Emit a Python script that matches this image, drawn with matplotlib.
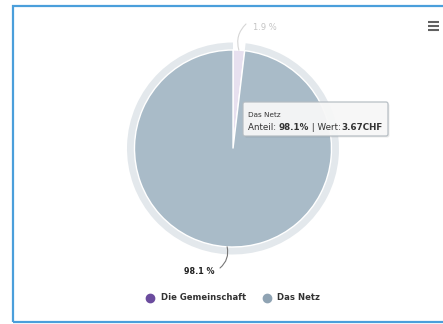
import matplotlib
matplotlib.use("Agg")
import matplotlib.pyplot as plt
from matplotlib.lines import Line2D
from matplotlib.patches import Rectangle, FancyBboxPatch
import numpy as np

# ---- data -------------------------------------------------------------
labels = ["Die Gemeinschaft", "Das Netz"]
shares = [1.9, 98.1]                     # percent
hover_label = "Das Netz"
hover_share = 98.1
hover_value = "3.67CHF"

legend_colors = ["#6b4c9e", "#8fa3b3"]
slice_colors = ["#e7e0ef", "#a9bbc8"]     # inactive / hovered states
halo_color = "#e3e8ec"

# ---- figure (1 data unit == 1 pixel) -----------------------------------
W, H = 443, 324
fig = plt.figure(figsize=(W / 100, H / 100), dpi=100)
ax = fig.add_axes([0, 0, 1, 1])

FONT = "DejaVu Sans"
cx, cy, r = 233.0, H - 148.5, 98.5

# hover halo around the active slice
ax.pie(shares, radius=r + 7.5, center=(cx, cy), startangle=90,
       counterclock=False, colors=["none", halo_color],
       wedgeprops=dict(width=7.5, linewidth=0))
# main pie
ax.pie(shares, radius=r, center=(cx, cy), startangle=90,
       counterclock=False, colors=slice_colors,
       wedgeprops=dict(linewidth=1.0, edgecolor="white"))

ax.set_xlim(0, W)
ax.set_ylim(0, H)
ax.set_aspect("equal")
ax.axis("off")

# ---- data labels with curved connectors ---------------------------------
cum = np.cumsum(shares)
mids = cum - np.array(shares) / 2
angles = np.deg2rad(360 * mids / 100.0)   # clockwise from the top
edge_pts = [(cx + r * np.sin(a), cy + r * np.cos(a)) for a in angles]

label_specs = [
    dict(xy_text=(253, H - 27), ha="left", color="#c4c4c4", weight="normal",
         lcolor="#d6d6d6", rad=-0.3, end=(246, H - 24), size=6.0),
    dict(xy_text=(215, H - 272), ha="right", color="#222222", weight="bold",
         lcolor="#777777", rad=-0.3, end=(220, H - 268), size=5.8),
]
for share, ep, spec in zip(shares, edge_pts, label_specs):
    ax.annotate("", xy=spec["end"], xytext=ep,
                arrowprops=dict(arrowstyle="-", color=spec["lcolor"], lw=0.8,
                                connectionstyle=f"arc3,rad={spec['rad']}",
                                shrinkA=0, shrinkB=0))
    ax.text(spec["xy_text"][0], spec["xy_text"][1], f"{share} %",
            ha=spec["ha"], va="center", fontsize=spec["size"], family=FONT,
            color=spec["color"], fontweight=spec["weight"])

# ---- tooltip -----------------------------------------------------------
tx0, ty0, tw, th = 243, H - 136, 145, 34
ax.add_patch(FancyBboxPatch((tx0 + 1.5, ty0 - 1.5), tw, th,
                            boxstyle="round,pad=0,rounding_size=2",
                            fc="#000000", ec="none", alpha=0.08))
ax.add_patch(FancyBboxPatch((tx0, ty0), tw, th,
                            boxstyle="round,pad=0,rounding_size=2",
                            fc="#f8f8f8", ec="#b4bcc2", lw=0.9, alpha=0.95))
ax.text(248, H - 115, hover_label, fontsize=5.2, family=FONT,
        color="#333333", va="center")

fig.canvas.draw()
renderer = fig.canvas.get_renderer()
segments = [("Anteil: ", "normal"), (f"{hover_share}%", "bold"),
            (" | Wert:", "normal"), (hover_value, "bold")]
x = 248.0
for s, w in segments:
    t = ax.text(x, H - 127, s, fontsize=6.3, family=FONT, color="#333333",
                fontweight=w, va="center", ha="left")
    bb = t.get_window_extent(renderer)
    x += bb.width

# ---- legend --------------------------------------------------------------
handles = [Line2D([], [], marker="o", linestyle="none", markersize=6,
                  markerfacecolor=c, markeredgecolor=c) for c in legend_colors]
leg = ax.legend(handles, labels, loc="center", bbox_to_anchor=(233 / W, 26 / H),
                bbox_transform=fig.transFigure, ncol=2, frameon=False,
                handletextpad=0.7, columnspacing=2.0, handlelength=1.0,
                prop=dict(family=FONT, weight="bold", size=6.1))
for t in leg.get_texts():
    t.set_color("#333333")

# ---- menu icon -----------------------------------------------------------
for yy in (22, 26, 30):
    ax.plot([428, 439], [H - yy, H - yy], color="#606060", lw=1.5,
            solid_capstyle="butt")

# ---- outer frame ---------------------------------------------------------
ax.add_patch(Rectangle((13, H - 322), 460, 316, fill=False,
                       ec="#4a9fdb", lw=1.6, clip_on=False))

fig.savefig("out.png", dpi=100)
